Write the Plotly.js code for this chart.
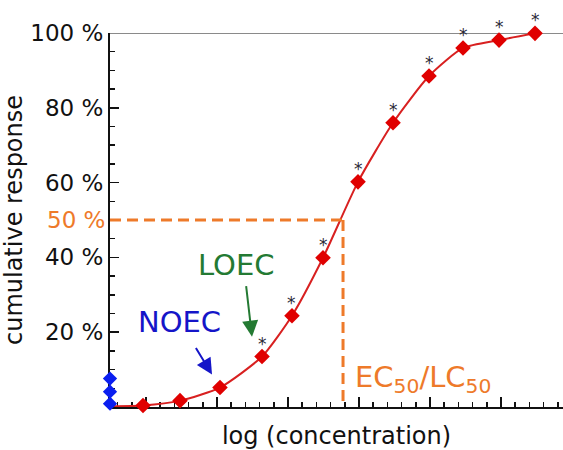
<!DOCTYPE html>
<html>
<head>
<meta charset="utf-8">
<script src="https://cdn.plot.ly/plotly-3.0.1.min.js"></script>
<style>html,body{margin:0;padding:0;background:#fff;}#chart{width:563px;height:450px;}</style>
</head>
<body>
<div id="chart"></div>
<script>
// log(concentration) in axis units (1 unit between major ticks)
const concX = [0.958, 1.479, 2.042, 2.634, 3.056, 3.493, 3.986, 4.479, 4.986, 5.465, 5.972, 6.479];
// cumulative response (%)
const responseY = [0.4, 1.7, 5.2, 13.5, 24.4, 39.9, 60.2, 76.0, 88.5, 96.0, 98.1, 99.9];
const significance = ['', '', '', '*', '*', '*', '*', '*', '*', '*', '*', '*'];
// fitted curve
const fitX = [0.493, 0.958, 1.479, 2.042, 2.634, 3.056, 3.493, 3.986, 4.479, 4.986, 5.465, 5.972, 6.479];
const fitY = [0.2, 0.4, 1.7, 5.2, 13.5, 24.4, 39.9, 60.2, 76.0, 88.5, 96.0, 98.1, 99.9];
// control replicates (at axis origin)
const controlX = [0.493, 0.493, 0.493];
const controlY = [7.6, 4.1, 0.9];
// EC50
const ec50X = 3.775;
const ec50Y = 50;
const xRange = [0.493, 6.873];
const yTickVals = [20, 40, 60, 80, 100];
const yTickText = ['20 %', '40 %', '60 %', '80 %', '100 %'];

const FONT = 'DejaVu Sans, Arial, sans-serif';
const ORANGE = '#ee7a2a';

const traces = [
  {x: fitX, y: fitY, mode: 'lines', line: {color: '#d82020', width: 2, shape: 'spline', smoothing: 0.6}, hoverinfo: 'skip', cliponaxis: false},
  {x: concX, y: responseY, mode: 'markers', marker: {symbol: 'diamond', size: 12, color: '#e00000'}, cliponaxis: false},
  {x: controlX, y: controlY, mode: 'markers', marker: {symbol: 'diamond', size: 11, color: '#0a1ef0'}, cliponaxis: false}
];

const starAnnotations = concX.map((x, i) => ({
  x: x, y: responseY[i], xref: 'x', yref: 'y', text: significance[i], showarrow: false,
  yshift: 13, font: {family: FONT, size: 17, color: '#2a2a38'}
})).filter(a => a.text !== '');

const annotations = starAnnotations.concat([
  {xref: 'paper', x: 0, yref: 'y', y: ec50Y, text: '50 %', showarrow: false, xanchor: 'right', xshift: -3,
   font: {family: FONT, size: 23, color: ORANGE}},
  {x: 1.465, y: 22.8, text: 'NOEC', showarrow: false, font: {family: FONT, size: 29, color: '#1515c8'}},
  {x: 2.268, y: 38.0, text: 'LOEC', showarrow: false, font: {family: FONT, size: 29, color: '#247a33'}},
  {x: 3.915, y: 7.5, text: 'EC<sub>50</sub>/LC<sub>50</sub>', showarrow: false, xanchor: 'left',
   font: {family: FONT, size: 29, color: ORANGE}},
  {x: 1.93, y: 8.7, ax: 1.69, ay: 16.2, axref: 'x', ayref: 'y', text: '', showarrow: true,
   arrowhead: 2, arrowsize: 1.6, arrowwidth: 2, arrowcolor: '#1515c8'},
  {x: 2.493, y: 18.8, ax: 2.408, ay: 32.7, axref: 'x', ayref: 'y', text: '', showarrow: true,
   arrowhead: 2, arrowsize: 1.6, arrowwidth: 2, arrowcolor: '#247a33'}
]);

const shapes = [
  {type: 'line', xref: 'paper', x0: 0, x1: 1, yref: 'y', y0: 100, y1: 100, layer: 'below',
   line: {color: '#8a8a8a', width: 2}},
  {type: 'line', xref: 'x', x0: xRange[0], x1: ec50X, yref: 'y', y0: ec50Y, y1: ec50Y,
   line: {color: ORANGE, width: 3, dash: '11px,6px'}},
  {type: 'line', xref: 'x', x0: ec50X, x1: ec50X, yref: 'y', y0: ec50Y, y1: 0,
   line: {color: ORANGE, width: 3, dash: '11px,6px'}}
];

const layout = {
  width: 563, height: 450,
  margin: {l: 110, r: 0, t: 33, b: 42.5},
  paper_bgcolor: '#fff', plot_bgcolor: '#fff',
  showlegend: false,
  font: {family: FONT, color: '#111'},
  xaxis: {
    range: xRange, showgrid: false, zeroline: false, showline: true, linecolor: '#111', linewidth: 2,
    layer: 'below traces',
    ticks: 'inside', tickmode: 'linear', tick0: 1, dtick: 1, ticklen: 10, tickwidth: 1.5, tickcolor: '#111',
    showticklabels: false,
    minor: {ticks: 'inside', tick0: 1, dtick: 0.2, ticklen: 5, tickwidth: 1.5, tickcolor: '#111'},
    title: {text: 'log (concentration)', font: {family: FONT, size: 24, color: '#111'}, standoff: 25},
    automargin: false
  },
  yaxis: {
    range: [0, 100], showgrid: false, zeroline: false, showline: true, linecolor: '#111', linewidth: 2,
    layer: 'below traces',
    ticks: 'inside', tickmode: 'array', tickvals: yTickVals, ticktext: yTickText, ticklen: 9, tickwidth: 1.5,
    tickcolor: '#111', tickfont: {family: FONT, size: 23, color: '#111'},
    minor: {ticks: 'inside', tick0: 0, dtick: 5, ticklen: 5, tickwidth: 1.5, tickcolor: '#111'},
    title: {text: 'cumulative response', font: {family: FONT, size: 24, color: '#111'}, standoff: 4},
    automargin: false
  },
  shapes: shapes,
  annotations: annotations
};

Plotly.newPlot('chart', traces, layout, {displayModeBar: false, staticPlot: true});
</script>
</body>
</html>
